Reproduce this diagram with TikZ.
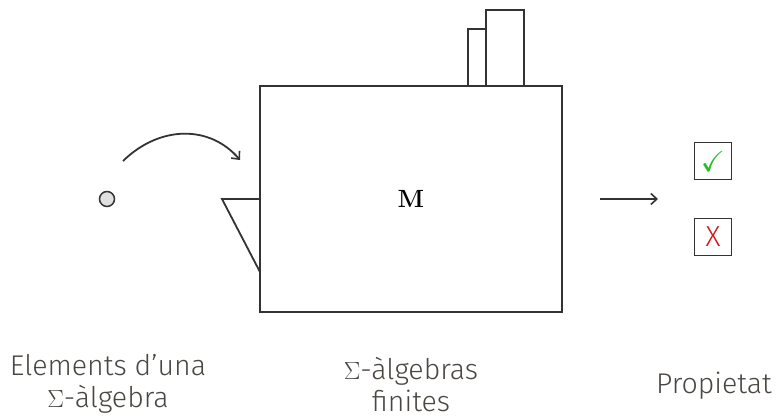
\documentclass[tikz,border=0pt]{standalone}
\usepackage{amssymb}
\usepackage[no-math]{fontspec}
\setmainfont{Fira Sans}[UprightFont=* Light]
\usetikzlibrary{arrows.meta}
\definecolor{ink}{HTML}{333333}
\definecolor{txt}{HTML}{4A4642}
\definecolor{dotfill}{HTML}{E0E0E0}
\definecolor{okgreen}{HTML}{22C022}
\definecolor{badred}{HTML}{D81818}
\begin{document}
\begin{tikzpicture}[x=1pt,y=-1pt,
  line/.style={draw=ink,line width=1.8pt},
  lbl/.style={text=txt,font=\fontsize{28.5}{32}\selectfont,align=center,inner sep=0pt},
  tick/.style={line,minimum width=37pt,minimum height=37pt,inner sep=0pt},
  arr/.style={line,-{Straight Barb[length=6pt,width=11pt,line width=1.6pt]}}]
\useasboundingbox (0,0) rectangle (779,419);
% machine body and chimneys
\node[line,minimum width=302pt,minimum height=226pt,inner sep=0pt] (machine) at (411,199) {\fontsize{27}{30}\selectfont$\mathbf{M}$};
\draw[line] (486,86) rectangle (524,10) coordinate (tallchimney);
\draw[line] (468,86) rectangle (486,29) coordinate (shortchimney);
% input funnel
\draw[line,line join=miter] (260,199) -- (222,199) -- (260,272);
% input element
\node[line,line width=1.5pt,fill=dotfill,circle,minimum size=15pt,inner sep=0pt] (elem) at (107,199) {};
\coordinate (arcstart) at (123,161);
\coordinate (arcend) at (240,160);
\draw[arr] (arcstart) .. controls (160,125) and (210,125) .. (arcend);
% output
\coordinate (outstart) at (600,199);
\coordinate (outend) at (658,199);
\draw[arr] (outstart) -- (outend);
\node[tick] (yes) at (713,161) {\color{okgreen}\fontsize{29}{30}\selectfont$\checkmark$};
\node[tick] (no) at (713,237) {\color{badred}\fontsize{29}{30}\selectfont X};
% labels
\node[lbl] (inlabel) at (108,384) {Elements d’una\\$\Sigma$-àlgebra};
\node[lbl] (machlabel) at (411,385) {$\Sigma$-àlgebras\\finites};
\node[lbl] (outlabel) at (714,386) {Propietat};
\end{tikzpicture}
\end{document}
